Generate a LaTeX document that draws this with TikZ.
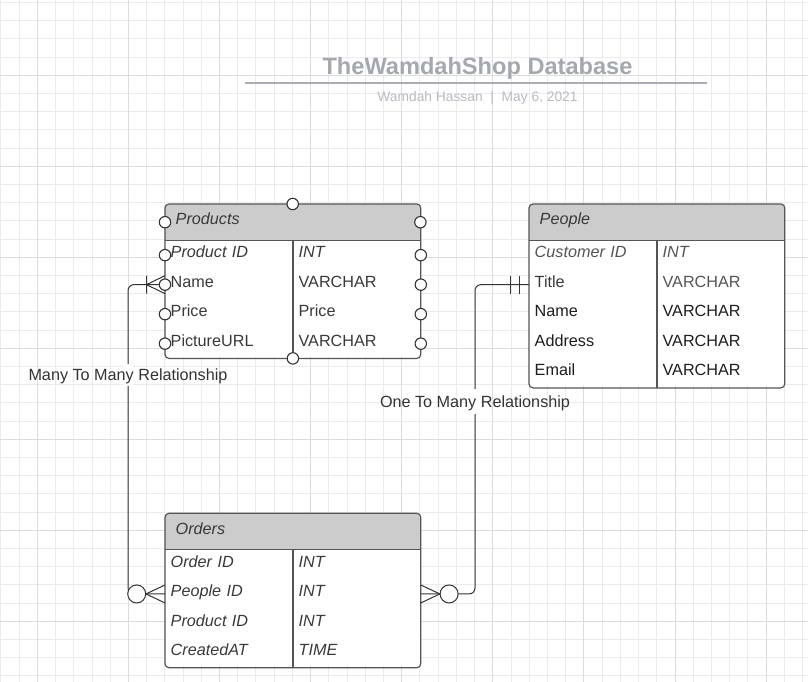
\documentclass[tikz,border=0pt]{standalone}
\usepackage{fontspec}
\setmainfont{Liberation Sans}
\usetikzlibrary{positioning}
\definecolor{gminor}{HTML}{EBEBEB}
\definecolor{gmajor}{HTML}{DCDCDC}
\definecolor{hgrey}{HTML}{CCCCCC}
\definecolor{bline}{HTML}{555555}
\definecolor{cline}{HTML}{333333}
\definecolor{txt}{HTML}{3A3A3A}
\definecolor{txtlight}{HTML}{555555}
\definecolor{txtdark}{HTML}{1E1E1E}
\definecolor{ttlgrey}{HTML}{A4A8B1}
\definecolor{subgrey}{HTML}{B8BCC3}
\definecolor{rulegrey}{HTML}{A9ADB5}

\begin{document}
\begin{tikzpicture}[x=1pt, y=-1pt,
  every node/.style={font=\fontsize{16.2}{19}\selectfont, text=txt},
  gridmin/.style={draw=gminor, line width=1pt},
  gridmaj/.style={draw=gmajor, line width=1pt},
  hdr/.style={anchor=north west, minimum width=255pt, minimum height=36pt, text width=234pt, inner xsep=10.5pt, inner ysep=0pt, align=left, text height=11.5pt, text depth=6pt, fill=hgrey, font=\fontsize{16.2}{19}\selectfont\itshape},
  cell/.style={minimum width=127.5pt, minimum height=29.1pt, text width=116.5pt, inner xsep=5.5pt, inner ysep=0pt, align=left, text height=11.5pt, text depth=6pt, fill=white},
  tbl/.style={draw=bline, line width=1.2pt, rounded corners=4pt},
  sep/.style={draw=bline, line width=1.2pt},
  conn/.style={draw=cline, line width=1pt, rounded corners=6pt},
  foot/.style={draw=cline, line width=1pt},
  port/.style={circle, draw=cline, fill=white, line width=1.1pt, minimum size=11.4pt, inner sep=0pt},
  rel/.style={anchor=base, text=cline},
  ttl/.style={anchor=base, text=ttlgrey, font=\fontsize{23.6}{28}\selectfont\bfseries},
  sub/.style={anchor=base, text=subgrey, font=\fontsize{13.8}{16}\selectfont}]

\fill[white] (0,0) rectangle (808,682);
\useasboundingbox (0,0) rectangle (808,682);
\foreach \i in {0,...,44} \draw[gridmin] ({0.9+18.22*\i},0) -- ++(0,682);
\foreach \j in {0,...,37} \draw[gridmin] (0,{2.5+18.2*\j}) -- ++(808,0);
\foreach \i in {2,7,...,42} \draw[gridmaj] ({0.9+18.22*\i},0) -- ++(0,682);
\foreach \j in {4,9,...,34} \draw[gridmaj] (0,{2.5+18.2*\j}) -- ++(808,0);

\node[ttl] (title) at (477.5,74.2) {TheWamdahShop Database};
\draw[draw=rulegrey, line width=2pt] (245,83) -- (707,83);
\node[sub] (subtitle) at (477.5,101.5) {Wamdah Hassan\ \ |\ \ May 6, 2021};

\begin{scope}
\fill[white, rounded corners=4pt] (165,204) rectangle (420,356.4);
\clip[rounded corners=4pt] (165,204) rectangle (420,356.4);
\node[hdr] (prh) at (165,204) {Products};
\node[cell, below right=0pt] (pr1) at (prh.south west) {\itshape Product ID};
\node[cell, below=0pt] (pr2) at (pr1.south) {Name};
\node[cell, below=0pt] (pr3) at (pr2.south) {Price};
\node[cell, below=0pt] (pr4) at (pr3.south) {PictureURL};
\node[cell, right=0pt] (pr1t) at (pr1.east) {\itshape INT};
\node[cell, right=0pt] (pr2t) at (pr2.east) {VARCHAR};
\node[cell, right=0pt] (pr3t) at (pr3.east) {Price};
\node[cell, right=0pt] (pr4t) at (pr4.east) {VARCHAR};
\end{scope}
\draw[tbl] (prh.north west) rectangle (pr4t.south east);
\draw[sep] (prh.south west) -- (prh.south east) (pr1.north east) -- (pr4.south east);

\begin{scope}
\fill[white, rounded corners=4pt] (529,204) rectangle (784,385.5);
\clip[rounded corners=4pt] (529,204) rectangle (784,385.5);
\node[hdr] (peh) at (529,204) {People};
\node[cell, below right=0pt, text=txtlight] (pe1) at (peh.south west) {\itshape Customer ID};
\node[cell, below=0pt] (pe2) at (pe1.south) {Title};
\node[cell, below=0pt, text=txtdark] (pe3) at (pe2.south) {Name};
\node[cell, below=0pt, text=txtdark] (pe4) at (pe3.south) {Address};
\node[cell, below=0pt, text=txtdark] (pe5) at (pe4.south) {Email};
\node[cell, right=0pt, text=txtlight] (pe1t) at (pe1.east) {\itshape INT};
\node[cell, right=0pt, text=txtlight] (pe2t) at (pe2.east) {VARCHAR};
\node[cell, right=0pt, text=txtdark] (pe3t) at (pe3.east) {VARCHAR};
\node[cell, right=0pt, text=txtdark] (pe4t) at (pe4.east) {VARCHAR};
\node[cell, right=0pt, text=txtdark] (pe5t) at (pe5.east) {VARCHAR};
\end{scope}
\draw[tbl] (peh.north west) rectangle (pe5t.south east);
\draw[sep] (peh.south west) -- (peh.south east) (pe1.north east) -- (pe5.south east);

\begin{scope}
\fill[white, rounded corners=4pt] (165,513.3) rectangle (420,665.7);
\clip[rounded corners=4pt] (165,513.3) rectangle (420,665.7);
\node[hdr] (orh) at (165,513.3) {Orders};
\node[cell, below right=0pt] (or1) at (orh.south west) {\itshape Order ID};
\node[cell, below=0pt] (or2) at (or1.south) {\itshape People ID};
\node[cell, below=0pt] (or3) at (or2.south) {\itshape Product ID};
\node[cell, below=0pt] (or4) at (or3.south) {\itshape CreatedAT};
\node[cell, right=0pt] (or1t) at (or1.east) {\itshape INT};
\node[cell, right=0pt] (or2t) at (or2.east) {\itshape INT};
\node[cell, right=0pt] (or3t) at (or3.east) {\itshape INT};
\node[cell, right=0pt] (or4t) at (or4.east) {\itshape TIME};
\end{scope}
\draw[tbl] (orh.north west) rectangle (or4t.south east);
\draw[sep] (orh.south west) -- (orh.south east) (or1.north east) -- (or4.south east);

\draw[conn] (pr2.west) -- ++(-37,0) |- (or2.west);
\draw[conn] (pe2.west) -- ++(-54,0) |- (or2t.east);

\begin{scope}[shift={(pr2.west)}]
\draw[foot] (-18.5,-9) -- (-18.5,9) (0,-9) -- (-18.5,0) -- (0,9);
\end{scope}
\begin{scope}[shift={(or2.west)}]
\draw[foot] (0,-9) -- (-19,0) -- (0,9);
\draw[foot, fill=white] (-28.3,0) circle[radius=9];
\end{scope}
\begin{scope}[shift={(pe2.west)}]
\draw[foot] (-19,-9) -- (-19,9) (-10,-9) -- (-10,9);
\end{scope}
\begin{scope}[shift={(or2t.east)}]
\draw[foot] (0,-9) -- (19,0) -- (0,9);
\draw[foot, fill=white] (28.3,0) circle[radius=9];
\end{scope}

\fill[white] (123,364) rectangle (133,386);
\node[rel] (mtm) at (128,380.7) {Many To Many Relationship};
\fill[white] (470,389) rectangle (480,414);
\node[rel] (otm) at (475,407.7) {One To Many Relationship};

\foreach \a [count=\k] in {prh.north, prh.west, prh.east, pr4.south east, pr1.west, pr2.west, pr3.west, pr4.west, pr1t.east, pr2t.east, pr3t.east, pr4t.east}
  \node[port] (port\k) at (\a) {};
\end{tikzpicture}
\end{document}
